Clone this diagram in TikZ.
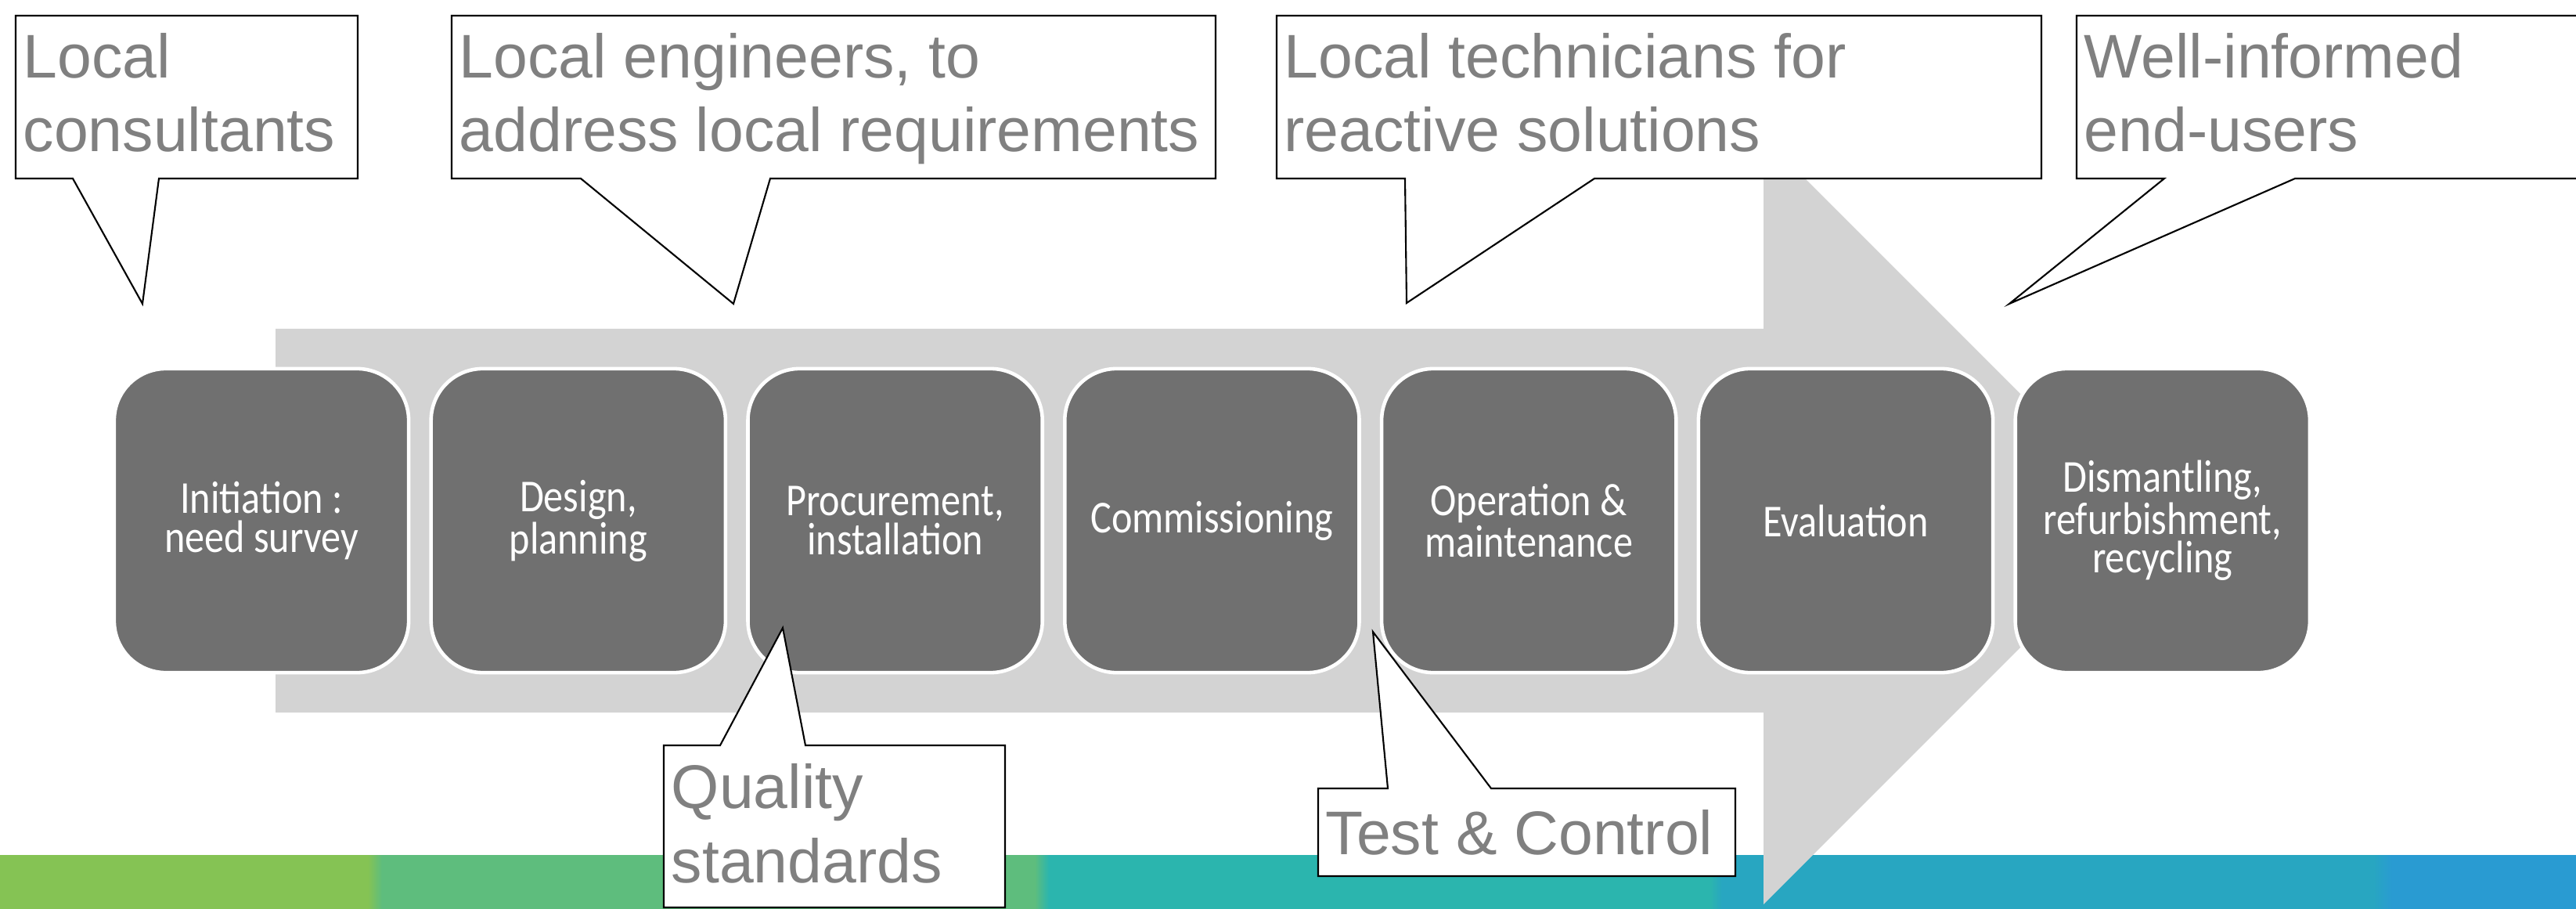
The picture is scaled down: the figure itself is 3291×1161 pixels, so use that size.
\documentclass[tikz,border=0pt]{standalone}
\usepackage{fontspec}
\setmainfont{Liberation Sans}
\newfontfamily\boxfont[FakeStretch=0.86]{Carlito}
\definecolor{stagegray}{RGB}{112,112,112}
\definecolor{arrowgray}{RGB}{211,211,211}
\definecolor{calloutgray}{RGB}{128,128,128}
\definecolor{barA}{RGB}{133,195,84}
\definecolor{barB}{RGB}{94,189,125}
\definecolor{barC}{RGB}{43,181,174}
\definecolor{barD}{RGB}{40,166,193}
\definecolor{barE}{RGB}{41,155,210}
\begin{document}
\begin{tikzpicture}[x=0.01cm,y=-0.01cm,
  stage/.style={draw=white, line width=1.3pt, fill=stagegray, rounded corners=0.66cm,
    minimum width=3.76cm, minimum height=3.88cm, inner sep=0pt, text=white, align=center,
    font={\boxfont\fontsize{16.6}{14}\selectfont}},
  callout/.style={draw=black, fill=white, line width=0.6pt, line join=miter},
  calltext/.style={anchor=base west, align=left, inner sep=0pt, text=calloutgray,
    font={\fontsize{22.4}{26.75}\selectfont}}]
\useasboundingbox (0,0) rectangle (3291,1161);
\clip (0,0) rectangle (3291,1161);
% bottom colour bar
\fill[barA] (0,1092) rectangle (470,1161);
\shade[left color=barA, right color=barB] (470,1092) rectangle (488,1161);
\fill[barB] (488,1092) rectangle (1322,1161);
\shade[left color=barB, right color=barC] (1322,1092) rectangle (1340,1161);
\fill[barC] (1340,1092) rectangle (2185,1161);
\shade[left color=barC, right color=barD] (2185,1092) rectangle (2200,1161);
\fill[barD] (2200,1092) rectangle (3032,1161);
\shade[left color=barD, right color=barE] (3032,1092) rectangle (3056,1161);
\fill[barE] (3056,1092) rectangle (3291,1161);
% big arrow
\fill[arrowgray] (352,420) -- (2253,420) -- (2253,175) -- (2743,665) -- (2253,1155) -- (2253,910) -- (352,910) -- cycle;
% stages
\node[stage] (s1) at (334,665) {Initiation :\\need survey};
\node[stage] (s2) at (738.8,665) {Design,\\planning};
\node[stage] (s3) at (1143.6,665) {Procurement,\\installation};
\node[stage] (s4) at (1548.4,665) {Commissioning};
\node[stage] (s5) at (1953.2,665) {Operation \&\\maintenance};
\node[stage] (s6) at (2358,665) {Evaluation};
\node[stage] (s7) at (2762.8,665) {Dismantling,\\refurbishment,\\recycling};
% callout tips
\coordinate (t1) at (182,388);
\coordinate (t2) at (937,388);
\coordinate (t3) at (1797,387);
\coordinate (t4) at (2567,388);
\coordinate (tq) at (1000,802);
\coordinate (tc) at (1754,807);
% callouts
\draw[callout] (20,20) -- (457,20) -- (457,228) -- (203,228) -- (t1) -- (93,228) -- (20,228) -- cycle;
\draw[callout] (577,20) -- (1553,20) -- (1553,228) -- (984,228) -- (t2) -- (742,228) -- (577,228) -- cycle;
\draw[callout] (1631,20) -- (2608,20) -- (2608,228) -- (2037,228) -- (t3) -- (1795,228) -- (1631,228) -- cycle;
\draw[callout] (2653,20) -- (3340,20) -- (3340,228) -- (2932,228) -- (t4) -- (2765,228) -- (2653,228) -- cycle;
\draw[callout] (848,952) -- (920,952) -- (tq) -- (1029,952) -- (1284,952) -- (1284,1159) -- (848,1159) -- cycle;
\draw[callout] (1684,1007) -- (1773,1007) -- (tc) -- (1905,1007) -- (2217,1007) -- (2217,1119) -- (1684,1119) -- cycle;
% callout texts (base anchor = baseline of last line)
\node[calltext] (c1) at (29,194) {Local\\consultants};
\node[calltext] (c2) at (586,194) {Local engineers, to\\address local requirements};
\node[calltext] (c3) at (1640,194) {Local technicians for\\reactive solutions};
\node[calltext] (c4) at (2662,194) {Well-informed\\end-users};
\node[calltext] (cq) at (857,1127) {Quality\\standards};
\node[calltext] (cc) at (1693,1091) {Test \& Control};
\end{tikzpicture}
\end{document}
